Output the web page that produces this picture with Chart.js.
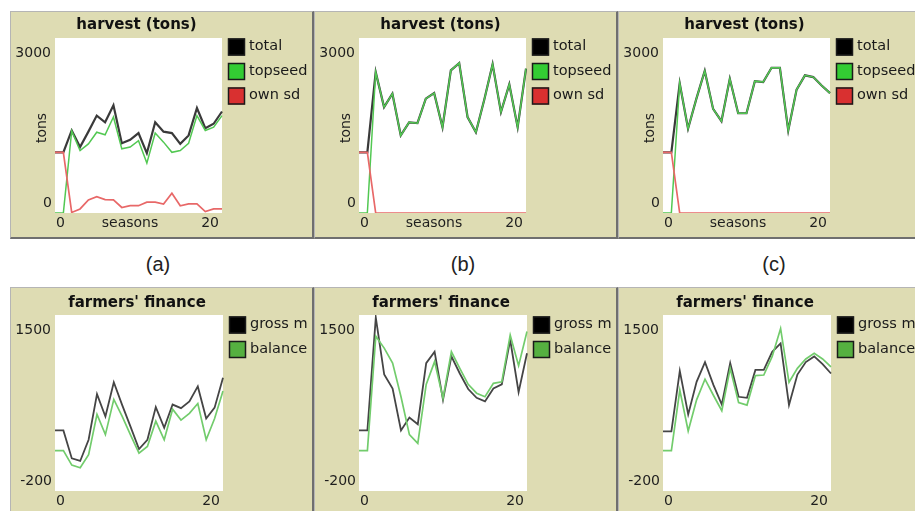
<!DOCTYPE html>
<html>
<head>
<meta charset="utf-8">
<script src="https://cdn.jsdelivr.net/npm/chart.js@4.4.1/dist/chart.umd.min.js"></script>
<style>
  body { margin: 0; width: 915px; height: 511px; overflow: hidden; background: #fff; position: relative; font-family: "DejaVu Sans", sans-serif; }
  .panel { position: absolute; box-sizing: border-box; background: #dedcb3; border-top: 1px solid #b5b5b5; border-left: 1px solid #b5b5b5; border-right: 2px solid #6f6f6f; border-bottom: 2px solid #6f6f6f; }
  .top { top: 11px; height: 228px; width: 304px; }
  .bottom { top: 287px; height: 240px; width: 304px; }
  canvas { position: absolute; }
  .caption { position: absolute; top: 253px; font: 20px "Liberation Sans", Arial, sans-serif; color: #222; width: 60px; text-align: center; }
</style>
</head>
<body>
<div class="panel top" style="left:10px"></div>
<div class="panel top" style="left:314px"></div>
<div class="panel top" style="left:618px"></div>
<div class="panel bottom" style="left:10px"></div>
<div class="panel bottom" style="left:314px"></div>
<div class="panel bottom" style="left:618px"></div>

<canvas id="harvestA" width="304" height="228" style="left:10px;top:11px"></canvas>
<canvas id="harvestB" width="304" height="228" style="left:314px;top:11px"></canvas>
<canvas id="harvestC" width="304" height="228" style="left:618px;top:11px"></canvas>
<canvas id="financeA" width="304" height="224" style="left:10px;top:287px"></canvas>
<canvas id="financeB" width="304" height="224" style="left:314px;top:287px"></canvas>
<canvas id="financeC" width="304" height="224" style="left:618px;top:287px"></canvas>

<div class="caption" style="left:128px">(a)</div>
<div class="caption" style="left:433px">(b)</div>
<div class="caption" style="left:744px">(c)</div>

<script>
// seasons on the x axis
const seasons = [0, 1, 2, 3, 4, 5, 6, 7, 8, 9, 10, 11, 12, 13, 14, 15, 16, 17, 18, 19, 20]

// harvest (tons), scenario a
const totalA   = [1040, 1040, 1415, 1130, 1395, 1670, 1555, 1845, 1195, 1255, 1370, 1025, 1555, 1395, 1370, 1185, 1330, 1800, 1455, 1530, 1740]
const topseedA = [0, 0, 1405, 1070, 1185, 1385, 1340, 1645, 1100, 1130, 1240, 855, 1370, 1215, 1040, 1070, 1195, 1670, 1415, 1470, 1670]
const ownSdA   = [1040, 1040, 10, 70, 225, 280, 230, 225, 95, 125, 125, 185, 185, 155, 340, 125, 155, 155, 25, 70, 70]

// scenario b
const totalB   = [1040, 1040, 2415, 1815, 2045, 1330, 1555, 1540, 1960, 2055, 1470, 2445, 2570, 1645, 1385, 1940, 2550, 1730, 2205, 1470, 2475]
const topseedB = [0, 0, 2415, 1815, 2045, 1330, 1555, 1540, 1960, 2055, 1470, 2445, 2570, 1645, 1385, 1940, 2550, 1730, 2205, 1470, 2475]
const ownSdB   = [1040, 1040, 0, 0, 0, 0, 0, 0, 0, 0, 0, 0, 0, 0, 0, 0, 0, 0, 0, 0, 0]

// scenario c
const totalC   = [1040, 1040, 2225, 1445, 1960, 2435, 1785, 1575, 2300, 1710, 1710, 2260, 2245, 2490, 2490, 1415, 2115, 2360, 2330, 2185, 2055]
const topseedC = [0, 0, 2225, 1445, 1960, 2435, 1785, 1575, 2300, 1710, 1710, 2260, 2245, 2490, 2490, 1415, 2115, 2360, 2330, 2185, 2055]
const ownSdC   = [1040, 1040, 0, 0, 0, 0, 0, 0, 0, 0, 0, 0, 0, 0, 0, 0, 0, 0, 0, 0, 0]

// farmers' finance
const grossA   = [385, 385, 115, 90, 295, 735, 520, 850, 630, 420, 205, 295, 610, 410, 635, 600, 665, 810, 500, 605, 895]
const balanceA = [190, 190, 50, 25, 150, 540, 345, 685, 520, 340, 165, 230, 475, 295, 590, 485, 550, 645, 295, 500, 765]
const grossB   = [385, 385, 1475, 925, 790, 385, 510, 445, 1035, 1145, 680, 1100, 935, 785, 700, 665, 790, 830, 1260, 755, 1130]
const balanceB = [190, 190, 1295, 1180, 1035, 710, 345, 260, 830, 1050, 695, 1145, 985, 830, 745, 710, 840, 855, 1305, 1010, 1340]
const grossC   = [375, 375, 960, 540, 855, 1045, 825, 635, 1035, 710, 700, 970, 970, 1145, 1225, 630, 925, 1045, 1100, 1025, 935]
const balanceC = [190, 190, 775, 380, 680, 880, 725, 575, 985, 655, 630, 915, 920, 1100, 1370, 850, 985, 1075, 1130, 1075, 1000]

const harvestRange = [0, 3000]
const financeRange = [-200, 1500]

// white plot box + NetLogo style labels and legend
const netlogoLook = {
  id: 'netlogoLook',
  beforeDatasetsDraw(chart) {
    const { ctx, chartArea: a } = chart
    ctx.save()
    ctx.fillStyle = '#ffffff'
    ctx.fillRect(a.left, a.top, a.right - a.left, a.bottom - a.top)
    ctx.restore()
  },
  afterDraw(chart, args, opts) {
    const { ctx, chartArea: a, scales } = chart
    const labels = chart.data.labels
    ctx.save()
    ctx.textBaseline = 'middle'

    ctx.fillStyle = '#111'
    ctx.font = 'bold 15px "DejaVu Sans"'
    ctx.textAlign = 'center'
    ctx.fillText(opts.title, (a.left + a.right) / 2 - 2, a.top - opts.titleGap)

    ctx.fillStyle = '#1e1e1e'
    ctx.font = '14px "DejaVu Sans"'
    ctx.textAlign = 'right'
    ctx.fillText(String(scales.y.max), a.left - 4, a.top + 15)
    ctx.fillText(String(scales.y.min), a.left - 3, a.bottom - 10)

    ctx.textAlign = 'left'
    ctx.fillText(String(labels[0]), a.left + 1, a.bottom + 10)
    ctx.textAlign = 'right'
    ctx.fillText(String(labels[labels.length - 1]), a.right - 3, a.bottom + 10)

    if (opts.xTitle) {
      ctx.textAlign = 'center'
      ctx.fillText(opts.xTitle, a.left + 75, a.bottom + 10)
    }
    if (opts.yTitle) {
      ctx.save()
      ctx.translate(a.left - 13, a.top + 90)
      ctx.rotate(-Math.PI / 2)
      ctx.textAlign = 'center'
      ctx.fillText(opts.yTitle, 0, 0)
      ctx.restore()
    }

    // legend
    ctx.font = '14.5px "DejaVu Sans"'
    chart.data.datasets.forEach((ds, i) => {
      const cy = a.top + opts.legendTop + i * 24.5
      ctx.fillStyle = ds.swatch
      ctx.fillRect(a.right + 6, cy - 8, 17, 17)
      ctx.strokeStyle = '#1a1a1a'
      ctx.lineWidth = 1.5
      ctx.strokeRect(a.right + 6.5, cy - 7.5, 16, 16)
      ctx.fillStyle = '#1a1a1a'
      ctx.textAlign = 'left'
      ctx.fillText(ds.label, a.right + 27, cy)
    })
    ctx.restore()
  }
}

function line(label, data, color, swatch, order, width) {
  return {
    label: label,
    data: data,
    borderColor: color,
    swatch: swatch,
    borderWidth: width,
    pointRadius: 0,
    tension: 0,
    fill: false,
    order: order
  }
}

function makeChart(id, datasets, range, look, padding) {
  new Chart(document.getElementById(id), {
    type: 'line',
    data: { labels: seasons, datasets: datasets },
    options: {
      responsive: false,
      animation: false,
      events: [],
      layout: { padding: padding },
      scales: {
        x: { display: false },
        y: { display: false, min: range[0], max: range[1] }
      },
      plugins: {
        legend: { display: false },
        tooltip: { enabled: false },
        netlogoLook: look
      }
    },
    plugins: [netlogoLook]
  })
}

const harvestLook = { title: 'harvest (tons)', titleGap: 13, xTitle: 'seasons', yTitle: 'tons', legendTop: 8.5 }
const financeLook = { title: "farmers' finance", titleGap: 12, legendTop: 9.5 }
const harvestPad = { left: 45, right: 92, top: 27, bottom: 26 }
const financePad = { left: 45, right: 91, top: 28, bottom: 20 }

function harvestSets(total, topseed, ownSd) {
  return [
    line('total', total, '#3a3a3a', '#000000', 3, 2.2),
    line('topseed', topseed, '#52c852', '#33cc33', 2, 1.5),
    line('own sd', ownSd, '#e86868', '#d93030', 1, 1.7)
  ]
}

function financeSets(gross, balance) {
  return [
    line('gross m', gross, '#454545', '#000000', 2, 1.8),
    line('balance', balance, '#72cc6c', '#55b040', 1, 1.7)
  ]
}

makeChart('harvestA', harvestSets(totalA, topseedA, ownSdA), harvestRange, harvestLook, harvestPad)
makeChart('harvestB', harvestSets(totalB, topseedB, ownSdB), harvestRange, harvestLook, harvestPad)
makeChart('harvestC', harvestSets(totalC, topseedC, ownSdC), harvestRange, harvestLook, harvestPad)
makeChart('financeA', financeSets(grossA, balanceA), financeRange, financeLook, financePad)
makeChart('financeB', financeSets(grossB, balanceB), financeRange, financeLook, financePad)
makeChart('financeC', financeSets(grossC, balanceC), financeRange, financeLook, financePad)
</script>
</body>
</html>
